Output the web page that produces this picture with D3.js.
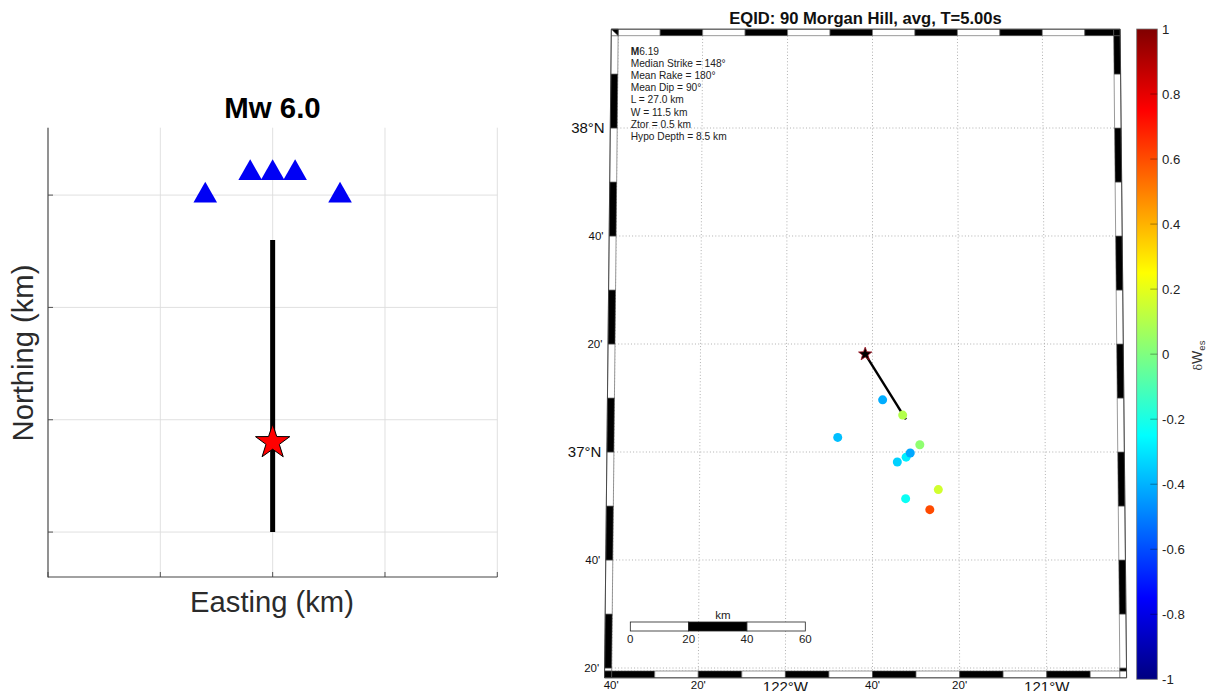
<!DOCTYPE html>
<html><head><meta charset="utf-8">
<script src="https://cdn.jsdelivr.net/npm/d3@7"></script>
<style>html,body{margin:0;padding:0;background:#fff}svg{display:block}text{font-family:"Liberation Sans",Arial,sans-serif}</style>
</head><body><svg id="c" width="1213" height="691"></svg>
<script>
// ---------- left panel data ----------
const eastingTicks = [-20, -10, 0, 10, 20];
const northingTicks = [-10, 0, 10, 20];
const stationEast = [-6, -2, 0, 2, 6];
const stationNorth = [20, 22, 22, 22, 20];
const ruptureEast = [0, 0];
const ruptureNorth = [-10, 16];
const hypoEast = 0, hypoNorth = -2;
// ---------- map data ----------
const mapTitle = "EQID: 90 Morgan Hill, avg, T=5.00s";
const infoLines = ["Median Strike = 148°", "Mean Rake = 180°", "Mean Dip = 90°", "L = 27.0 km", "W = 11.5 km", "Ztor = 0.5 km", "Hypo Depth = 8.5 km"];
const eventLon = [-121.6275, -121.550, -121.801, -121.484, -121.571, -121.537, -121.521, -121.413, -121.539, -121.446];
const eventLat = [37.161, 37.114, 37.045, 37.0225, 36.969, 36.984, 36.997, 36.884, 36.856, 36.822];
const eventVal = [-0.41, 0.10, -0.375, 0.03, -0.34, -0.28, -0.42, 0.16, -0.23, 0.605];
const epicenter = [-121.695, 37.302];
const faultEnd = [-121.5375, 37.101];
const lonGrid = [-122.6667, -122.3333, -122, -121.6667, -121.3333, -121];
const lonLabels = ["40'", "20'", "122°W", "40'", "20'", "121°W"];
const latGrid = [38, 37.6667, 37.3333, 37, 36.6667, 36.3333];
const latLabels = ["38°N", "40'", "20'", "37°N", "40'", "20'"];
const cbTicks = [1, 0.8, 0.6, 0.4, 0.2, 0, -0.2, -0.4, -0.6, -0.8, -1];
const scaleKm = [0, 20, 40, 60];
const jetPos = [0, 0.125, 0.375, 0.625, 0.875, 1];
const jetCol = ["#000080", "#0000ff", "#00ffff", "#ffff00", "#ff0000", "#800000"];

const svg = d3.select("#c");

// ---------- left panel ----------
const x = d3.scaleLinear().domain([-20, 20]).range([48, 497.3]);
const y = d3.scaleLinear().domain([-14, 26]).range([577, 127.7]);
const L = svg.append("g");
const gridCol = "#dcdcdc";
L.selectAll(".gx").data(eastingTicks).join("line").attr("x1", d => x(d)).attr("x2", d => x(d)).attr("y1", y(26)).attr("y2", y(-14)).attr("stroke", gridCol).attr("stroke-width", 0.9);
L.selectAll(".gy").data(northingTicks).join("line").attr("x1", x(-20)).attr("x2", x(20)).attr("y1", d => y(d)).attr("y2", d => y(d)).attr("stroke", gridCol).attr("stroke-width", 0.9);
const axCol = "#444";
L.append("line").attr("x1", x(-20)).attr("x2", x(-20)).attr("y1", y(26)).attr("y2", y(-14)+0.5).attr("stroke", axCol).attr("stroke-width", 1.1);
L.append("line").attr("x1", x(-20)).attr("x2", x(20)).attr("y1", y(-14)).attr("y2", y(-14)).attr("stroke", axCol).attr("stroke-width", 1.1);
L.selectAll(".tx").data(eastingTicks).join("line").attr("x1", d => x(d)).attr("x2", d => x(d)).attr("y1", y(-14)).attr("y2", y(-14)-5).attr("stroke", axCol).attr("stroke-width", 0.9);
L.selectAll(".ty").data(northingTicks).join("line").attr("x1", x(-20)).attr("x2", x(-20)+5).attr("y1", d => y(d)).attr("y2", d => y(d)).attr("stroke", axCol).attr("stroke-width", 0.9);
L.append("line").attr("x1", x(ruptureEast[0])).attr("x2", x(ruptureEast[1])).attr("y1", y(ruptureNorth[0])).attr("y2", y(ruptureNorth[1])).attr("stroke", "#000").attr("stroke-width", 5);
L.selectAll(".st").data(stationEast).join("path")
  .attr("d", "M0,-13.4L11.8,7.3L-11.8,7.3Z")
  .attr("transform", (d, i) => `translate(${x(d)},${y(stationNorth[i])})`).attr("fill", "#0000f5");
function starPath(R, r) {
  const pts = d3.range(10).map(i => {
    const a = -Math.PI / 2 + i * Math.PI / 5, q = i % 2 ? r : R;
    return [q * Math.cos(a), q * Math.sin(a)];
  });
  return "M" + pts.map(p => p.join(",")).join("L") + "Z";
}
L.append("path").attr("d", starPath(18, 7)).attr("transform", `translate(${x(hypoEast)},${y(hypoNorth)})`).attr("fill", "#f00").attr("stroke", "#000").attr("stroke-width", 1);
L.append("text").attr("x", 272.5).attr("y", 118).attr("text-anchor", "middle").attr("font-size", 29.4).attr("font-weight", "bold").attr("fill", "#000").text("Mw 6.0");
L.append("text").attr("x", 272).attr("y", 612).attr("text-anchor", "middle").attr("font-size", 29.2).attr("fill", "#2b2b2b").text("Easting (km)");
L.append("text").attr("transform", "translate(33,353) rotate(-90)").attr("text-anchor", "middle").attr("font-size", 29.2).attr("fill", "#2b2b2b").text("Northing (km)");

// ---------- map projection (scales) ----------
const latY = d3.scaleLinear().domain([37, 38]).range([452, 128]);
const latK = d3.scaleLinear().domain([36.324, 38.285]).range([261.3, 254.8]);
const lon0 = -121.6667, x0 = 872.5;
const px = (lon, lat) => x0 + (lon - lon0) * latK(lat);
const P = (lon, lat) => [px(lon, lat), latY(lat)];
const W = -122.665, E = -120.72, N = 38.285, S = 36.324;
const Wo = -122.692, Eo = -120.6945, No = 38.305, So = 36.303;
const M = svg.append("g");
const poly = pts => "M" + pts.map(p => p.join(",")).join("L") + "Z";

// gridlines
const dot = {stroke: "#a8a8a8", w: 0.9, dash: "1 2.2"};
M.selectAll(".mer").data(lonGrid.filter(d => d > W)).join("line")
  .attr("x1", d => px(d, N)).attr("y1", latY(N)).attr("x2", d => px(d, S)).attr("y2", latY(S))
  .attr("stroke", dot.stroke).attr("stroke-width", dot.w).attr("stroke-dasharray", dot.dash);
M.selectAll(".par").data(latGrid).join("line")
  .attr("x1", d => px(W, d)).attr("y1", d => latY(d)).attr("x2", d => px(E, d)).attr("y2", d => latY(d))
  .attr("stroke", dot.stroke).attr("stroke-width", dot.w).attr("stroke-dasharray", dot.dash);
M.append("line").attr("x1", px(W, N)).attr("y1", latY(N)).attr("x2", px(W, S)).attr("y2", latY(S)).attr("stroke", dot.stroke).attr("stroke-width", dot.w).attr("stroke-dasharray", dot.dash);
M.append("line").attr("x1", px(W, S)).attr("y1", latY(S)).attr("x2", px(E, S)).attr("y2", latY(S)).attr("stroke", dot.stroke).attr("stroke-width", dot.w).attr("stroke-dasharray", dot.dash);

// frame bands
const step = 1 / 6;
const latEdges = [S].concat(d3.range(-4, 8).map(k => 37 + k * step).filter(v => v > S && v < N), [N]);
const lonEdges = [W].concat(d3.range(1, 12).map(k => -122.6667 + k * step).filter(v => v > W && v < E), [E]);
const latIdx = (a, b) => Math.floor(((a + b) / 2 - 37) / step);
const lonIdx = (a, b) => Math.floor(((a + b) / 2 + 122.6667) / step);
const bands = [];
d3.pairs(latEdges).forEach(([a, b]) => {
  const k = latIdx(a, b), even = ((k % 2) + 2) % 2 === 0;
  bands.push({p: [P(Wo, a), P(W, a), P(W, b), P(Wo, b)], c: even ? "#000" : "#fff"});
  bands.push({p: [P(E, a), P(Eo, a), P(Eo, b), P(E, b)], c: even ? "#fff" : "#000"});
});
d3.pairs(lonEdges).forEach(([a, b]) => {
  const k = lonIdx(a, b), even = k % 2 === 0;
  bands.push({p: [P(a, N), P(b, N), P(b, No), P(a, No)], c: even ? "#fff" : "#000"});
  bands.push({p: [P(a, So), P(b, So), P(b, S), P(a, S)], c: even ? "#000" : "#fff"});
});
bands.push({p: [P(Wo, N), P(W, N), P(W, No), P(Wo, No)], c: "#fff"});
bands.push({p: [P(W, No), P(W, N), P(Wo, No)], c: "#000"});
bands.push({p: [P(E, N), P(Eo, N), P(Eo, No), P(E, No)], c: "#000"});
bands.push({p: [P(Wo, So), P(W, So), P(W, S), P(Wo, S)], c: "#000"});
bands.push({p: [P(E, So), P(Eo, So), P(Eo, S), P(E, S)], c: "#fff"});
bands.push({p: [P(E, S), P(Eo, S), P(Eo, S + 0.008), P(E, S + 0.008)], c: "#000"});
M.selectAll(".band").data(bands).join("path").attr("d", d => poly(d.p)).attr("fill", d => d.c).attr("stroke", "#555").attr("stroke-width", 0.6);
M.append("path").attr("d", poly([P(Wo, No), P(Eo, No), P(Eo, So), P(Wo, So)])).attr("fill", "none").attr("stroke", "#333").attr("stroke-width", 0.8);

// graticule labels
M.selectAll(".lonl").data(lonGrid).join("text")
  .attr("x", d => px(d, S)).attr("y", (d, i) => lonLabels[i].includes("°") ? 692 : 688.7)
  .attr("text-anchor", "middle").attr("font-size", (d, i) => lonLabels[i].includes("°") ? 15 : 11.5).attr("fill", "#111")
  .text((d, i) => lonLabels[i]);
M.selectAll(".latl").data(latGrid).join("text")
  .attr("x", d => px(W, d) - 12.5).attr("y", (d, i) => latY(d) + (latLabels[i].includes("°") ? 5 : 4.3))
  .attr("text-anchor", "end").attr("font-size", (d, i) => latLabels[i].includes("°") ? 15 : 11.5).attr("fill", "#111")
  .text((d, i) => latLabels[i]);

// title + annotation
M.append("text").attr("x", 865.5).attr("y", 23.5).attr("text-anchor", "middle").attr("font-size", 16.6).attr("font-weight", "bold").attr("fill", "#111").text(mapTitle);
const info = M.append("g").attr("font-size", 10.2).attr("fill", "#222");
const mLine = info.append("text").attr("x", 630.7).attr("y", 54.5);
mLine.append("tspan").attr("font-weight", "bold").text("M");
mLine.append("tspan").text("6.19");
const infoBase = d3.scaleLinear().domain([0, 1]).range([66.8, 79]);
info.selectAll(".il").data(infoLines).join("text").attr("x", 630.7).attr("y", (d, i) => infoBase(i)).text(d => d);

// colour
const jetScale = d3.scaleLinear().domain(jetPos).range(jetCol).interpolate(d3.interpolateRgb);
const cVal = d3.scaleLinear().domain([-1, 1]).range([0, 1]);
const color = v => jetScale(cVal(v));

// fault, events, epicentre
M.append("line").attr("x1", px(...epicenter)).attr("y1", latY(epicenter[1])).attr("x2", px(...faultEnd)).attr("y2", latY(faultEnd[1])).attr("stroke", "#000").attr("stroke-width", 2.4);
M.selectAll(".ev").data(eventVal).join("circle")
  .attr("cx", (d, i) => px(eventLon[i], eventLat[i])).attr("cy", (d, i) => latY(eventLat[i]))
  .attr("r", 4.5).attr("fill", d => color(d));
M.append("path").attr("d", starPath(7, 2.9)).attr("transform", `translate(${px(...epicenter)},${latY(epicenter[1])})`).attr("fill", "#000").attr("stroke", "#a01020").attr("stroke-width", 0.8);

// scale bar
const sb = d3.scaleLinear().domain([0, 60]).range([630.3, 805.3]);
M.selectAll(".sb").data(d3.pairs(scaleKm)).join("rect")
  .attr("x", d => sb(d[0])).attr("y", 622).attr("width", d => sb(d[1]) - sb(d[0])).attr("height", 9)
  .attr("fill", (d, i) => i === 1 ? "#000" : "#fff").attr("stroke", "#222").attr("stroke-width", 0.8);
M.selectAll(".sbl").data(scaleKm).join("text").attr("x", d => sb(d)).attr("y", 642.7).attr("text-anchor", "middle").attr("font-size", 11.5).attr("fill", "#222").text(d => d);
M.append("text").attr("x", 723).attr("y", 619).attr("text-anchor", "middle").attr("font-size", 11.5).attr("fill", "#222").text("km");

// colorbar
const cy = d3.scaleLinear().domain([-1, 1]).range([679.3, 29]);
const defs = svg.append("defs");
const grad = defs.append("linearGradient").attr("id", "jet").attr("x1", 0).attr("y1", 1).attr("x2", 0).attr("y2", 0);
grad.selectAll("stop").data(jetPos).join("stop").attr("offset", d => d).attr("stop-color", (d, i) => jetCol[i]);
const cbx0 = 1136.7, cbx1 = 1157.3;
const C = svg.append("g");
C.append("rect").attr("x", cbx0).attr("y", cy(1)).attr("width", cbx1 - cbx0).attr("height", cy(-1) - cy(1)).attr("fill", "url(#jet)").attr("stroke", "#777").attr("stroke-width", 0.8);
C.selectAll(".cbt").data(cbTicks.filter(d => Math.abs(d) < 1)).join("line").attr("x1", cbx1 - 7).attr("x2", cbx1).attr("y1", d => cy(d)).attr("y2", d => cy(d)).attr("stroke", "#000").attr("stroke-opacity", 0.45).attr("stroke-width", 0.8);
C.selectAll(".cbl").data(cbTicks).join("text").attr("x", 1162).attr("y", d => cy(d) + 4.7).attr("font-size", 13.2).attr("fill", "#222").text(d => d < 0 ? "-" + Math.abs(d) : d);
const yl = C.append("text").attr("transform", "translate(1201.5,370.5) rotate(-90)").attr("fill", "#333").attr("font-size", 14);
yl.append("tspan").attr("font-family", "DejaVu Serif").attr("font-size", 11).text("δ");
yl.append("tspan").text("W");
yl.append("tspan").attr("font-size", 9.5).attr("dy", 3.5).text("es");
</script></body></html>
